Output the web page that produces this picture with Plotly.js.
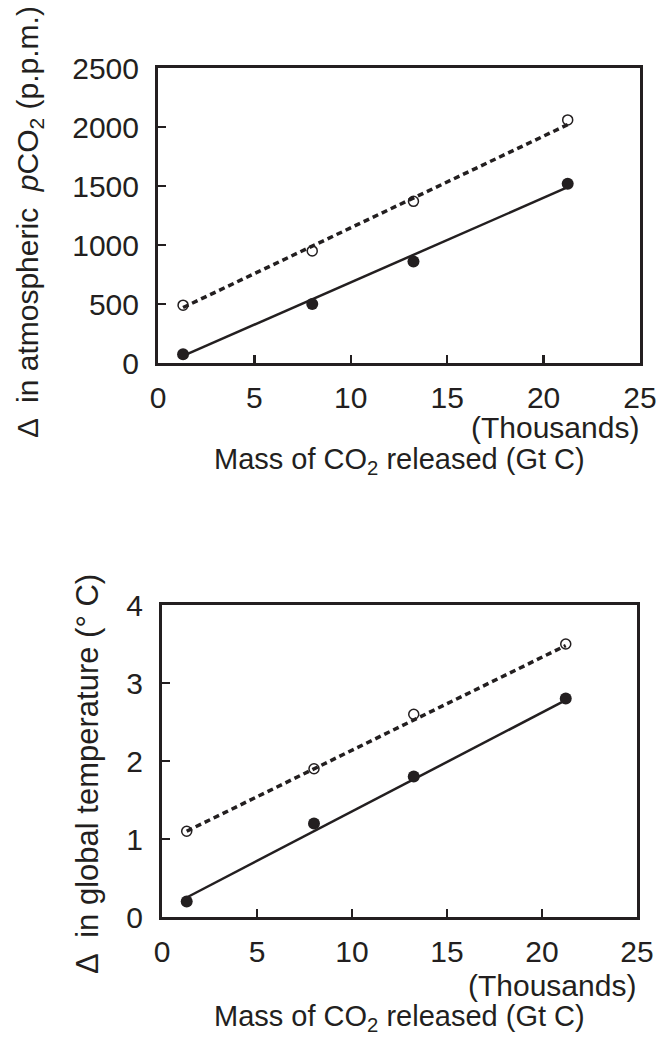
<!DOCTYPE html>
<html>
<head>
<meta charset="utf-8">
<script src="https://cdn.plot.ly/plotly-3.0.1.min.js"></script>
<style>html,body{margin:0;padding:0;background:#fff;}#chart{width:668px;height:1037px;}</style>
</head>
<body>
<div id="chart"></div>
<script>
// Data (x in thousands of Gt C)
const massReleased = [1.3, 8.0, 13.25, 21.25];
const co2Open   = [490, 950, 1370, 2060];
const co2Filled = [75, 500, 860, 1520];
const tempOpen   = [1.1, 1.9, 2.6, 3.5];
const tempFilled = [0.2, 1.2, 1.8, 2.8];
// fitted trend lines (read endpoints)
const fitX = [1.3, 21.25];
const co2OpenFit   = [470, 2020];
const co2FilledFit = [60, 1490];
const tempOpenFit   = [1.1, 3.48];
const tempFilledFit = [0.25, 2.78];

const xTicks = [0, 5, 10, 15, 20, 25];
const co2Ticks = [0, 500, 1000, 1500, 2000, 2500];
const tempTicks = [0, 1, 2, 3, 4];

const INK = '#231f20';
const FONT = 'Liberation Sans, Arial, sans-serif';

function fitLine(x, y, xa, ya, dash, w) {
  return {x: x, y: y, xaxis: xa, yaxis: ya, mode: 'lines', type: 'scatter',
    line: {color: INK, width: w, dash: dash}, hoverinfo: 'skip', showlegend: false};
}
function pts(x, y, xa, ya, open) {
  return {x: x, y: y, xaxis: xa, yaxis: ya, mode: 'markers', type: 'scatter', showlegend: false,
    marker: open ? {symbol: 'circle-open', size: 10, color: INK, line: {width: 1.5, color: INK}}
                 : {symbol: 'circle', size: 12, color: INK, line: {width: 0}}};
}

const traces = [
  fitLine(fitX, co2OpenFit, 'x', 'y', '6px,4px', 3.5),
  fitLine(fitX, co2FilledFit, 'x', 'y', 'solid', 2.5),
  pts(massReleased, co2Open, 'x', 'y', true),
  pts(massReleased, co2Filled, 'x', 'y', false),
  fitLine(fitX, tempOpenFit, 'x2', 'y2', '6px,4px', 3.5),
  fitLine(fitX, tempFilledFit, 'x2', 'y2', 'solid', 2.5),
  pts(massReleased, tempOpen, 'x2', 'y2', true),
  pts(massReleased, tempFilled, 'x2', 'y2', false)
];

const W = 668, H = 1037;
const px = v => v / W;
const py = v => 1 - v / H;

function axisBase(extra) {
  return Object.assign({
    showgrid: false, zeroline: false, showline: true, mirror: true,
    linecolor: INK, linewidth: 3, ticks: 'inside', ticklen: 8, tickwidth: 2.5, tickcolor: INK,
    tickfont: {family: FONT, size: 30, color: INK}, fixedrange: true
  }, extra);
}

const layout = {
  width: W, height: H,
  margin: {l: 0, r: 0, t: 0, b: 0},
  paper_bgcolor: '#fff', plot_bgcolor: '#fff',
  showlegend: false,
  xaxis: axisBase({domain: [px(158), px(640)], range: [0, 25], tickvals: xTicks, anchor: 'y', ticklabelstandoff: 6}),
  yaxis: axisBase({domain: [py(363), py(68)], range: [0, 2500], tickvals: co2Ticks, anchor: 'x', ticklabelstandoff: 10}),
  xaxis2: axisBase({domain: [px(162), px(637)], range: [0, 25], tickvals: xTicks, anchor: 'y2', ticklabelstandoff: 6}),
  yaxis2: axisBase({domain: [py(917), py(605)], range: [0, 4], tickvals: tempTicks, anchor: 'x2', ticklabelstandoff: 10}),
  annotations: [
    {text: 'Δ  in atmospheric  <i>p</i>CO<sub>2</sub> (p.p.m.)', xref: 'paper', yref: 'paper',
     x: px(29), y: py(222), xanchor: 'center', yanchor: 'middle', textangle: -90, showarrow: false,
     font: {family: FONT, size: 30, color: INK}},
    {text: '(Thousands)', xref: 'paper', yref: 'paper', x: px(641), y: py(427),
     xanchor: 'right', yanchor: 'middle', showarrow: false, font: {family: FONT, size: 30, color: INK}},
    {text: 'Mass of CO<sub>2</sub> released (Gt C)', xref: 'paper', yref: 'paper', x: px(399), y: py(461),
     xanchor: 'center', yanchor: 'middle', showarrow: false, font: {family: FONT, size: 29, color: INK}},
    {text: 'Δ  in global temperature (° C)', xref: 'paper', yref: 'paper',
     x: px(87), y: py(774), xanchor: 'center', yanchor: 'middle', textangle: -90, showarrow: false,
     font: {family: FONT, size: 31, color: INK}},
    {text: '(Thousands)', xref: 'paper', yref: 'paper', x: px(638), y: py(985),
     xanchor: 'right', yanchor: 'middle', showarrow: false, font: {family: FONT, size: 30, color: INK}},
    {text: 'Mass of CO<sub>2</sub> released (Gt C)', xref: 'paper', yref: 'paper', x: px(400), y: py(1018),
     xanchor: 'center', yanchor: 'middle', showarrow: false, font: {family: FONT, size: 29, color: INK}}
  ]
};

Plotly.newPlot('chart', traces, layout, {displayModeBar: false, staticPlot: true});
</script>
</body>
</html>
